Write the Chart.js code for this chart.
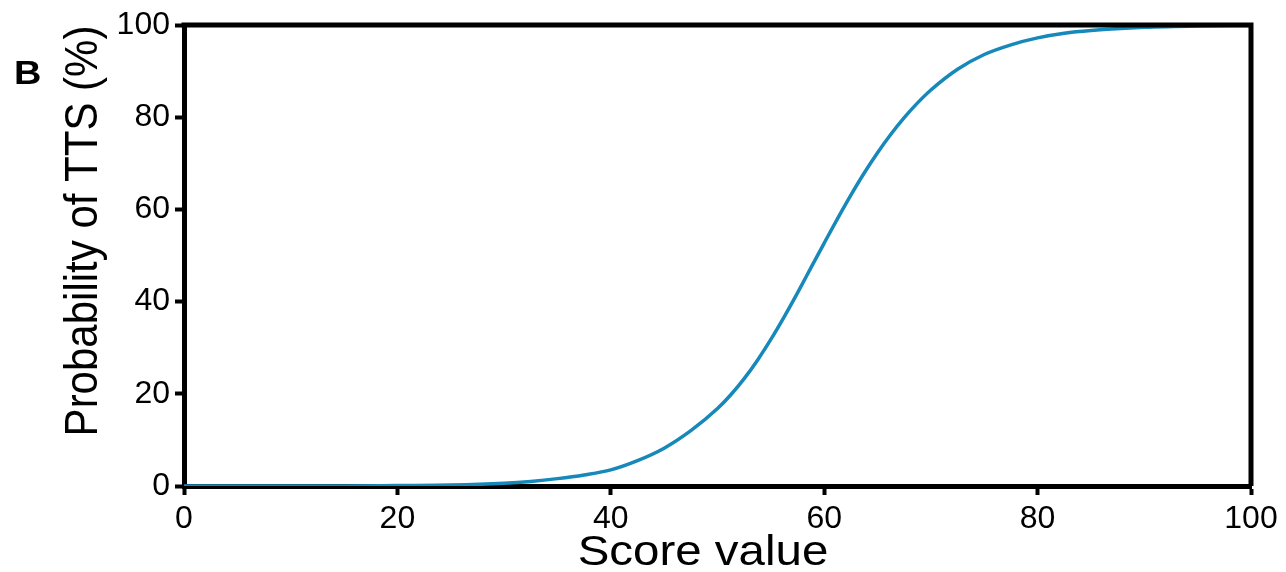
<!DOCTYPE html>
<html>
<head>
<meta charset="utf-8">
<script src="https://cdn.jsdelivr.net/npm/chart.js@4/dist/chart.umd.min.js"></script>
<style>
  html, body { margin: 0; padding: 0; background: #fff; }
  #wrap { width: 1286px; height: 572px; }
</style>
</head>
<body>
<div id="wrap"><canvas id="chart" width="1286" height="572"></canvas></div>
<script>
// values
const scoreValues = [0, 5, 10, 15, 20, 25, 30, 32.5, 35, 37.5, 40, 42.5, 45, 47.5, 50, 51.25, 52.5, 53.75, 55, 56.25, 57.5, 58.75, 60, 61.25, 62.5, 63.75, 65, 66.25, 67.5, 68.75, 70, 72.5, 75, 77.5, 80, 82.5, 85, 90, 95, 100]
const probability = [0, 0, 0, 0, 0.1, 0.2, 0.6, 1.0, 1.6, 2.4, 3.5, 5.5, 8.2, 12, 16.8, 19.8, 23.3, 27.3, 31.8, 36.7, 41.9, 47.3, 52.7, 58, 63.1, 67.9, 72.3, 76.3, 79.9, 83.1, 85.9, 90.4, 93.6, 95.7, 97.2, 98.2, 98.8, 99.5, 99.8, 99.9]
const xTicks = [0, 20, 40, 60, 80, 100]
const yTicks = [0, 20, 40, 60, 80, 100]

const FONT = 'Liberation Sans, Arial, Helvetica, sans-serif'
const X_TITLE = 'Score value'
const Y_TITLE = 'Probability of TTS (%)'

// closes the box on top and right, writes the axis titles and panel letter
const frame = {
  id: 'frame',
  afterDraw(chart) {
    const { ctx, chartArea: a } = chart
    ctx.save()
    ctx.strokeStyle = '#000'
    ctx.lineWidth = 5
    ctx.beginPath()
    ctx.moveTo(a.left - 2.5, a.top)
    ctx.lineTo(a.right, a.top)
    ctx.lineTo(a.right, a.bottom)
    ctx.stroke()
    ctx.restore()

    ctx.save()
    ctx.fillStyle = '#000'
    ctx.textAlign = 'center'
    ctx.textBaseline = 'middle'
    ctx.font = '42px ' + FONT
    // the source picture is a bit wider than tall
    ctx.translate(703, 553)
    ctx.scale(1.13, 1)
    ctx.fillText(X_TITLE, 0, 0)
    ctx.restore()

    ctx.save()
    ctx.fillStyle = '#000'
    ctx.textAlign = 'center'
    ctx.textBaseline = 'middle'
    ctx.font = '42px ' + FONT
    ctx.translate(84, 231)
    ctx.rotate(-Math.PI / 2)
    ctx.scale(1, 1.08)
    ctx.fillText(Y_TITLE, 0, 0)
    ctx.restore()

    ctx.save()
    ctx.translate(14, 84)
    ctx.scale(1.15, 1)
    ctx.font = 'bold 33px ' + FONT
    ctx.fillStyle = '#000'
    ctx.fillText('B', 0, 0)
    ctx.restore()
  }
}

const axisBase = (min, max, ticks) => ({
  type: 'linear',
  min: min,
  max: max,
  afterBuildTicks: (scale) => { scale.ticks = ticks.map(v => ({ value: v })) },
  ticks: { color: '#000', font: { family: FONT, size: 32 }, padding: 5 },
  grid: { drawOnChartArea: false, drawTicks: true, tickLength: 9, tickWidth: 4, color: '#000' },
  border: { display: true, width: 5, color: '#000' }
})

const xAxis = axisBase(0, 100, xTicks)
xAxis.afterFit = (scale) => { scale.height = 86 }

const yAxis = axisBase(0, 100, yTicks)
yAxis.afterFit = (scale) => { scale.width = 184 }

new Chart(document.getElementById('chart').getContext('2d'), {
  type: 'line',
  data: {
    datasets: [{
      label: 'Probability',
      data: scoreValues.map((x, i) => ({ x: x, y: probability[i] })),
      borderColor: 'rgb(22, 136, 186)',
      borderWidth: 3.5,
      pointRadius: 0,
      cubicInterpolationMode: 'monotone',
      fill: false
    }]
  },
  options: {
    responsive: false,
    animation: false,
    layout: { padding: { left: 0, top: 25, right: 35, bottom: 0 } },
    scales: { x: xAxis, y: yAxis },
    plugins: { legend: { display: false }, tooltip: { enabled: false } }
  },
  plugins: [frame]
})
</script>
</body>
</html>
